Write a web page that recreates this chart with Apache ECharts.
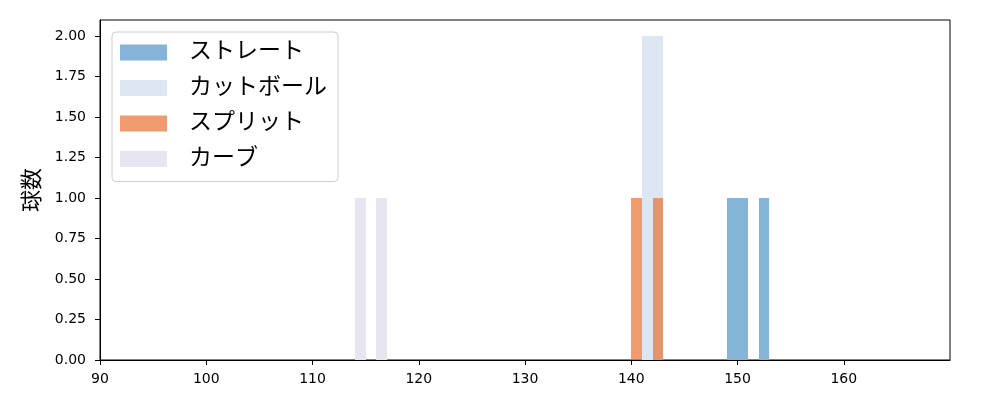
<!DOCTYPE html>
<html>
<head>
<meta charset="utf-8">
<script src="https://cdn.jsdelivr.net/npm/echarts@6/dist/echarts.min.js"></script>
<style>html,body{margin:0;padding:0;background:#fff}#c{width:1000px;height:400px}</style>
</head>
<body>
<div id="c"></div>
<script>
// Histogram bins: [start, end, count]
const seriesNames = ['ストレート', 'カットボール', 'スプリット', 'カーブ'];
const straightBins = [[149, 150, 1], [150, 151, 1], [152, 153, 1]];
const cutterBins = [[141, 143, 2]];
const splitterBins = [[140, 141, 1], [142, 143, 1]];
const curveBins = [[114, 115, 1], [116, 117, 1]];
const xTicks = [90, 100, 110, 120, 130, 140, 150, 160];
const yTicks = [0, 0.25, 0.5, 0.75, 1, 1.25, 1.5, 1.75, 2];

const colors = ['#84b4d8', '#dce7f3', 'rgba(234,112,49,0.7)', '#e7e6f0'];
const legendColors = ['#84b4d8', '#dce7f3', '#f09b6f', '#e7e6f0'];
const allBins = [straightBins, cutterBins, splitterBins, curveBins];

const font = '"DejaVu Sans", "Noto Sans CJK JP", sans-serif';

function renderItem(params, api) {
  const x0 = api.value(0), x1 = api.value(1), h = api.value(2);
  const p0 = api.coord([x0, 0]);
  const p1 = api.coord([x1, h]);
  const left = Math.round(p0[0]), right = Math.round(p1[0]);
  const top = Math.round(p1[1]), bottom = Math.round(p0[1]);
  return {
    type: 'rect',
    shape: { x: left, y: top, width: right - left, height: bottom - top },
    style: { fill: api.visual('color') }
  };
}

const chart = echarts.init(document.getElementById('c'), null, { renderer: 'canvas' });
chart.setOption({
  animation: false,
  textStyle: { fontFamily: font },
  grid: { left: 100, right: 50, top: 20, bottom: 40, show: true, borderColor: '#000', borderWidth: 1, backgroundColor: 'transparent' },
  legend: {
    left: 112, top: 32,
    orient: 'vertical',
    data: seriesNames.map((n, i) => ({ name: n, itemStyle: { color: legendColors[i] } })),
    icon: 'rect',
    itemWidth: 47, itemHeight: 16, itemGap: 12.5,
    padding: [9, 11, 11, 8],
    borderColor: '#cccccc', borderWidth: 1, borderRadius: 4,
    backgroundColor: 'rgba(255,255,255,0.8)',
    textStyle: { fontSize: 23, color: '#000', fontFamily: font, padding: [0, 0, 0, 17], lineHeight: 23 }
  },
  xAxis: {
    type: 'value', min: 90, max: 170, interval: 10,
    axisLine: { show: true, lineStyle: { color: '#000', width: 1 } },
    axisTick: { show: true, length: 5, lineStyle: { color: '#000' }, customValues: xTicks },
    splitLine: { show: false },
    axisLabel: {
      color: '#000', fontSize: 14, margin: 12, fontFamily: font,
      customValues: xTicks,
      formatter: v => String(v)
    }
  },
  yAxis: {
    type: 'value', min: 0, max: 2.1, interval: 0.25,
    name: '球数', nameLocation: 'middle', nameGap: 53, nameRotate: 90,
    nameTextStyle: { fontSize: 22, color: '#000', fontFamily: font },
    axisLine: { show: true, lineStyle: { color: '#000', width: 1 } },
    axisTick: { show: true, length: 5, lineStyle: { color: '#000' }, customValues: yTicks },
    splitLine: { show: false },
    axisLabel: {
      color: '#000', fontSize: 14, margin: 14, fontFamily: font,
      customValues: yTicks,
      formatter: v => Number(v).toFixed(2)
    }
  },
  series: allBins.map((bins, i) => ({
    name: seriesNames[i],
    type: 'custom',
    renderItem: renderItem,
    itemStyle: { color: colors[i] },
    encode: { x: [0, 1], y: 2 },
    data: bins,
    z: i + 2
  }))
});
</script>
</body>
</html>
